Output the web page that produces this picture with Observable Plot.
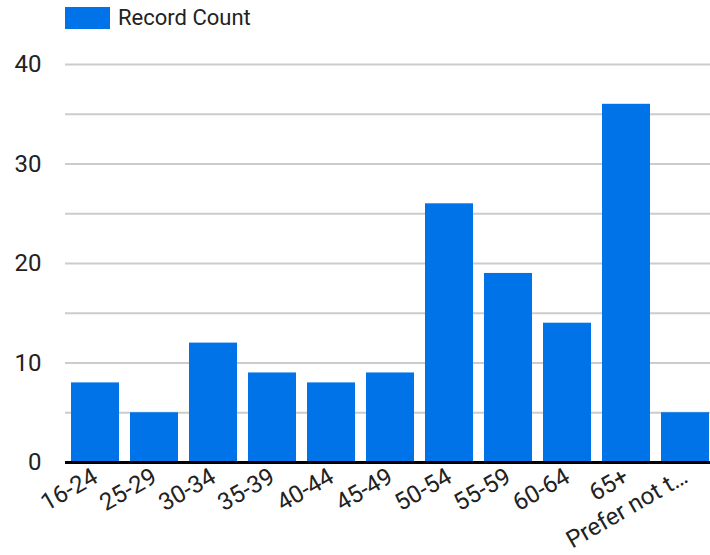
<!DOCTYPE html>
<html>
<head>
<meta charset="utf-8">
<script src="https://cdn.jsdelivr.net/npm/d3@7"></script>
<script src="https://cdn.jsdelivr.net/npm/@observablehq/plot@0.6"></script>
<style>
  html, body { margin: 0; padding: 0; background: #fff; overflow: hidden; width: 710px; height: 555px; }
  #legend { position: relative; height: 36px; font-family: Roboto, sans-serif; font-size: 22px; color: #222; }
  #legend .sw { position: absolute; left: 65px; top: 7px; width: 45px; height: 22px; background: #0073e8; }
  #legend .lab { position: absolute; left: 118px; top: 7px; line-height: 22px; white-space: nowrap; }
</style>
</head>
<body>
<div id="legend"><div class="sw"></div><div class="lab">Record Count</div></div>
<div id="chart"></div>
<script>
const categories = ["16-24", "25-29", "30-34", "35-39", "40-44", "45-49", "50-54", "55-59", "60-64", "65+", "Prefer not to say"];
const tickLabels = ["16-24", "25-29", "30-34", "35-39", "40-44", "45-49", "50-54", "55-59", "60-64", "65+", "Prefer not t…"];
const recordCount = [8, 5, 12, 9, 8, 9, 26, 19, 14, 36, 5];
const yTicks = [0, 10, 20, 30, 40];
const gridTicks = [5, 10, 15, 20, 25, 30, 35, 40];

const data = categories.map((c, i) => ({category: c, count: recordCount[i]}));
const labelOf = new Map(categories.map((c, i) => [c, tickLabels[i]]));

const chart = Plot.plot({
  width: 710,
  height: 519,
  marginTop: 28,
  marginBottom: 93,
  marginLeft: 65,
  marginRight: -5,
  style: {fontFamily: "Roboto, sans-serif", fontSize: "24px", color: "#222", background: "#fff"},
  x: {domain: categories, paddingInner: 0.19, paddingOuter: 0.095, label: null},
  y: {domain: [0, 40], label: null},
  marks: [
    Plot.ruleY(gridTicks, {stroke: "#cccccc", strokeWidth: 2}),
    Plot.barY(data, {x: "category", y: "count", fill: "#0073e8"}),
    Plot.ruleY([0], {stroke: "#000", strokeWidth: 3}),
    Plot.axisY(yTicks, {tickSize: 0, tickPadding: 24, label: null, fill: "#222", fontSize: 24}),
    Plot.axisX({tickSize: 0, tickPadding: 12, tickRotate: -30, label: null, tickFormat: d => labelOf.get(d), fill: "#222", fontSize: 24})
  ]
});
document.getElementById("chart").appendChild(chart);
</script>
</body>
</html>
